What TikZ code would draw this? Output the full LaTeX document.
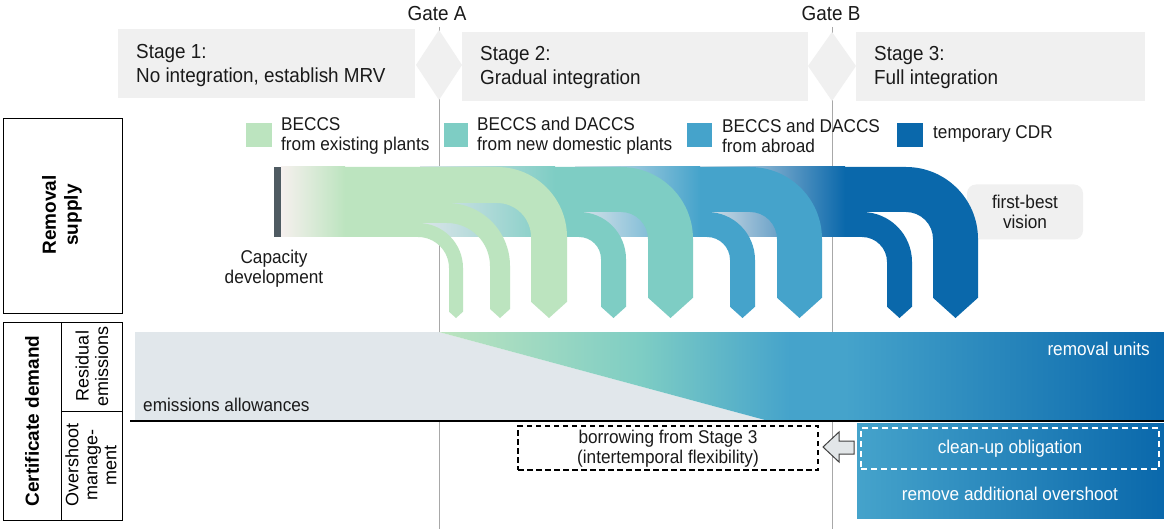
\documentclass[tikz,border=0pt]{standalone}
\usepackage{fontspec}
\setmainfont{Liberation Sans}[FakeStretch=0.93]
\newfontfamily\rotfont{Liberation Sans}
\definecolor{cg}{HTML}{BCE4BF}
\definecolor{ct}{HTML}{7ECDC4}
\definecolor{cb}{HTML}{45A3CB}
\definecolor{cd}{HTML}{0A68AB}
\definecolor{stagegray}{HTML}{F0F0F0}
\definecolor{txt}{HTML}{1A1A1A}
\definecolor{darkbar}{HTML}{4F5B62}
\definecolor{fadeg}{HTML}{F6F0EE}
\definecolor{fadeb}{HTML}{DCE5EA}
\definecolor{allow}{HTML}{E1E7EB}
\definecolor{gateline}{HTML}{A8A8A8}
\definecolor{arrowfill}{HTML}{E2E6E8}
\pgfdeclarehorizontalshading{demandshade}{100bp}{color(0bp)=(cg); color(25bp)=(cg); color(38.9bp)=(ct); color(49.2bp)=(cb); color(53bp)=(cb); color(75bp)=(cd); color(100bp)=(cd)}
% #1 colour, #2 right x of leg, #3 width, #4 top y, #5 outer radius, #6 x where solid part starts
\newcommand{\cdrarch}[6]{%
 \fill[#1] (#6,#4) -- ({#2-#5},#4) .. controls ({#2-#5+0.5523*#5},#4) and (#2,{#4+#5-0.5523*#5}) .. (#2,{#4+#5})
  -- (#2,{318-0.45*#3}) -- ({#2-#3/2},318) -- ({#2-#3},{318-0.45*#3}) -- ({#2-#3},{#4+#5})
  .. controls ({#2-#3},{#4+#5-0.5523*(#5-#3)}) and ({#2-#5+0.5523*(#5-#3)},{#4+#3}) .. ({#2-#5},{#4+#3})
  -- (#6,{#4+#3}) -- cycle;}
\begin{document}
\begin{tikzpicture}[x=1pt,y=-1pt,
  lbl/.style={text=txt, font=\fontsize{18.5}{20}\selectfont, inner sep=0},
  stagetxt/.style={text=txt, font=\fontsize{20.3}{24}\selectfont, align=left, anchor=west, inner sep=0},
  legtxt/.style={lbl, align=left, anchor=west},
  whitetxt/.style={text=white, font=\fontsize{18.5}{20}\selectfont, inner sep=0},
  sidelbl/.style={text=black, rotate=90, align=center, inner sep=0},
  gate/.style={draw=gateline, line width=0.8},
  frame/.style={draw=black, line width=0.9}]
\useasboundingbox (0,0) rectangle (1164,529);
\fill[white] (0,0) rectangle (1164,529);
% gate lines
\coordinate (gAtop) at (439,27); \coordinate (gAbot) at (439,529);
\coordinate (gBtop) at (832,27); \coordinate (gBbot) at (832,529);
\draw[gate] (gAtop) -- (gAbot);
\draw[gate] (gBtop) -- (gBbot);
% stage boxes
\fill[stagegray] (118,29) rectangle (415,98);
\fill[stagegray] (462,32) rectangle (808,101);
\fill[stagegray] (856,32) rectangle (1145,101);
\fill[stagegray] (439,30) -- (462,65) -- (439,100) -- (416,65) -- cycle;
\fill[stagegray] (832,32) -- (856,66) -- (832,101) -- (808,66) -- cycle;
\node[lbl, font=\fontsize{20.3}{24}\selectfont] (gateA) at (437,14) {Gate A};
\node[lbl, font=\fontsize{20.3}{24}\selectfont] (gateB) at (831,14) {Gate B};
\node[stagetxt] (s1) at (136,66) {Stage 1:\\No integration, establish MRV};
\node[stagetxt] (s2) at (480,68) {Stage 2:\\Gradual integration};
\node[stagetxt] (s3) at (874,68) {Stage 3:\\Full integration};
% legend
\fill[cg] (246,123) rectangle (272,147);
\fill[ct] (444,123) rectangle (468,147);
\fill[cb] (687,123) rectangle (712,147);
\fill[cd] (897,123) rectangle (923,147);
\node[legtxt] (l1) at (281,136) {BECCS\\from existing plants};
\node[legtxt] (l2) at (477,136) {BECCS and DACCS\\from new domestic plants};
\node[legtxt] (l3) at (722,136) {BECCS and DACCS\\from abroad};
\node[legtxt] (l4) at (933,134) {temporary CDR};
% first-best box
\node[fill=stagegray, rounded corners=9, minimum width=116, minimum height=55, align=center, text=txt, font=\fontsize{18.5}{20}\selectfont, inner sep=0] (fb) at (1025,212) {first-best\\vision};
% supply arches: dark blue
\shade[left color=fadeb, right color=cd] (700,167) rectangle (845,237);
\cdrarch{cd}{978}{45}{167}{72}{845}
\cdrarch{cd}{912}{25}{212}{50}{845}
% blue
\shade[left color=fadeb, right color=cb] (575,167) rectangle (700,237);
\cdrarch{cb}{822}{45}{167}{72}{700}
\cdrarch{cb}{755}{25}{212}{48}{700}
% teal
\shade[left color=fadeb, right color=ct] (420,167) rectangle (555,237);
\cdrarch{ct}{693}{45}{167}{72}{555}
\cdrarch{ct}{626}{25}{212}{47}{555}
% green
\shade[left color=fadeg, right color=cg] (281,167) rectangle (345,237);
\cdrarch{cg}{567}{36}{167}{70}{345}
\cdrarch{cg}{510}{20}{203}{63}{345}
\cdrarch{cg}{463}{14}{223}{45}{345}
\fill[darkbar] (274,167) rectangle (281,237);
\node[lbl, align=center] (cap) at (274,269) {Capacity\\development};
% demand
\fill[allow] (135,332) -- (439,332) -- (765,420) -- (135,420) -- cycle;
\shade[shading=demandshade] (439,332) -- (1164,332) -- (1164,420) -- (765,420) -- cycle;
\shade[left color=cb, right color=cd] (857,423) rectangle (1164,518);
\draw[line width=1.6] (130,421) -- (1164,421);
\node[draw=white, line width=1.6, dash pattern=on 6 off 4, minimum width=298, minimum height=41, inner sep=0] (cleanbox) at (1010,448.5) {};
\node[draw=black, line width=1.4, dash pattern=on 5.5 off 3.5, minimum width=300, minimum height=44, inner sep=0] (borrowbox) at (668,448) {};
\fill[arrowfill, draw=black!75, line width=1] (823,447) -- (839,432) -- (839,441) -- (854,441) -- (854,454) -- (839,454) -- (839,462) -- cycle;
\node[lbl, align=center] (borrow) at (668,449) {borrowing from Stage 3\\(intertemporal flexibility)};
\node[whitetxt] (clean) at (1010,449) {clean-up obligation};
\node[whitetxt] (remove) at (1010,494) {remove additional overshoot};
\node[lbl, anchor=west] (allowtxt) at (143,405) {emissions allowances};
\node[whitetxt, anchor=east] (remtxt) at (1150,349) {removal units};
% left panel
\draw[frame] (3,118) rectangle (122,313);
\draw[frame] (3,322) rectangle (122,520);
\draw[frame] (61,322) -- (61,520);
\draw[frame] (61,411) -- (122,411);
\node[sidelbl, font=\rotfont\bfseries\fontsize{19}{22}\selectfont] (rs) at (62,215) {Removal\\supply};
\node[sidelbl, font=\rotfont\bfseries\fontsize{19}{22}\selectfont] (cdm) at (32,421) {Certificate demand};
\node[sidelbl, font=\rotfont\fontsize{18}{19.5}\selectfont] (res) at (92,366) {Residual\\emissions};
\node[sidelbl, font=\rotfont\fontsize{18}{19}\selectfont] (ovs) at (91,465) {Overshoot\\manage-\\ment};
\end{tikzpicture}
\end{document}
